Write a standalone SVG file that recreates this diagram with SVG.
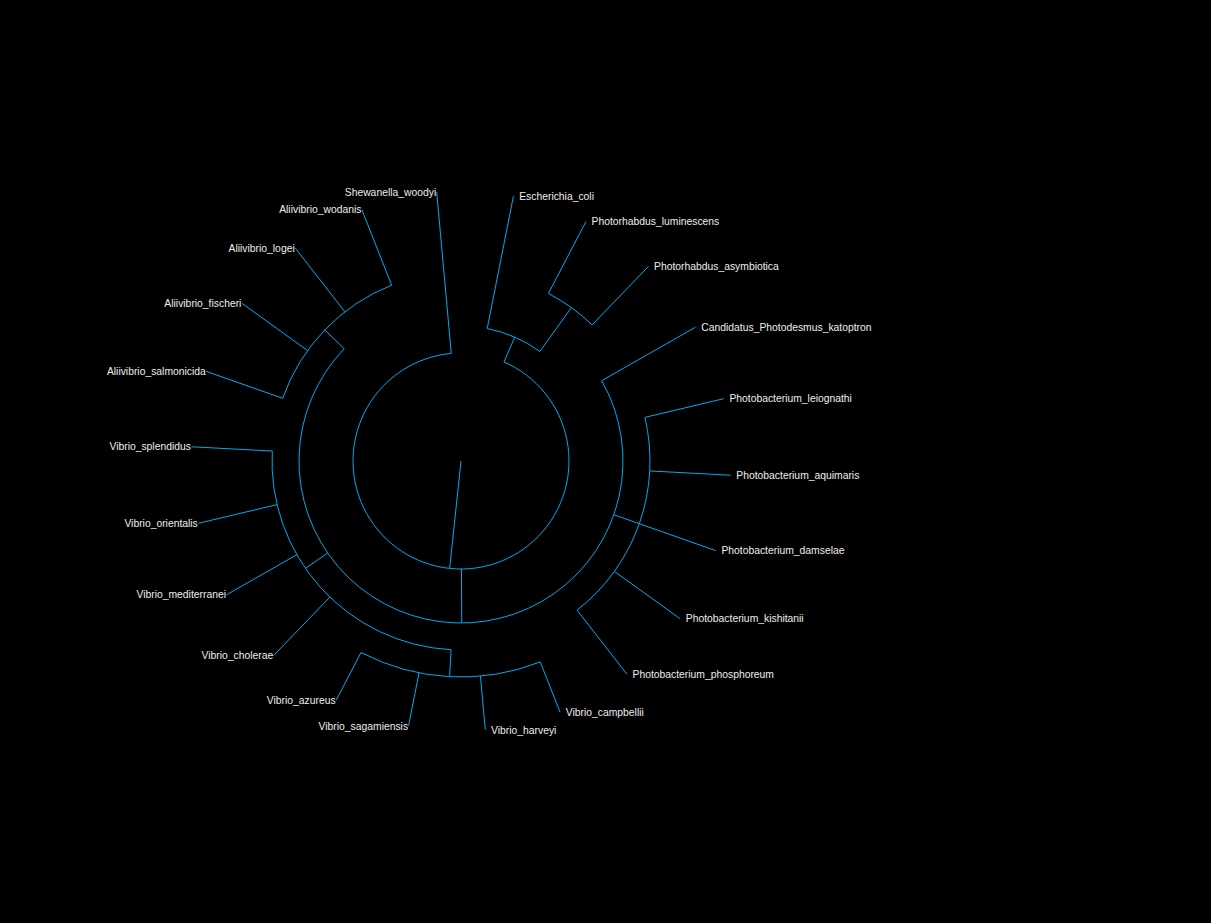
<svg xmlns="http://www.w3.org/2000/svg" width="1211" height="923" viewBox="0 0 1211 923">
<style>
.br{fill:none;stroke:#00aaee;stroke-width:1}
.lr{font-family:"Liberation Sans",Arial,sans-serif;font-size:10.35px;fill:#eeeeee}
.ll{font-family:"Liberation Sans",Arial,sans-serif;font-size:10.35px;fill:#eeeeee;text-anchor:end}
</style>
<rect width="1211" height="923" fill="#000000"/>
<g id="connectors" class="br">
<path d="M461,461 L449.67,568.4"/>
<path d="M504.0,361.93 A108,108 0 1 1 451.28,353.44"/>
<path d="M504.0,361.93 L514.77,337.16"/>
<path d="M487.22,328.57 A135,135 0 0 1 539.87,351.43"/>
<path d="M539.87,351.43 L571.41,307.61"/>
<path d="M548.45,293.45 A189,189 0 0 1 592.11,324.88"/>
<path d="M461.48,569 L461.72,623"/>
<path d="M601.70,380.71 A162,162 0 1 1 344.26,348.68"/>
<path d="M644.90,417.38 A189,189 0 0 1 577.08,610.16"/>
<path d="M327.69,553.03 L305.47,568.37"/>
<path d="M451.05,649.74 A189,189 0 0 1 272.26,451.05"/>
<path d="M451.05,649.74 L449.63,676.70"/>
<path d="M540.26,661.93 A216,216 0 0 1 361.06,652.48"/>
<path d="M344.26,348.68 L324.80,329.96"/>
<path d="M282.71,398.28 A189,189 0 0 1 391.65,285.18"/>
<path d="M487.22,328.57 L513.44,196.14"/>
<path d="M548.45,293.45 L585.93,221.64"/>
<path d="M592.11,324.88 L648.30,266.55"/>
<path d="M601.70,380.71 L695.50,327.19"/>
<path d="M644.90,417.38 L723.71,398.68"/>
<path d="M649.74,470.95 L730.62,475.22"/>
<path d="M613.82,514.76 L715.70,550.60"/>
<path d="M614.40,571.41 L680.14,618.73"/>
<path d="M577.08,610.16 L626.82,674.08"/>
<path d="M540.26,661.93 L560.07,712.17"/>
<path d="M480.44,676.12 L485.30,729.90"/>
<path d="M419.05,672.89 L408.56,725.86"/>
<path d="M361.06,652.48 L336.07,700.36"/>
<path d="M329.89,597.12 L273.70,655.45"/>
<path d="M296.85,554.67 L226.50,594.81"/>
<path d="M277.10,504.62 L198.29,523.32"/>
<path d="M272.26,451.05 L191.38,446.78"/>
<path d="M282.71,398.28 L206.30,371.40"/>
<path d="M307.60,350.59 L241.86,303.27"/>
<path d="M344.92,311.84 L295.18,247.92"/>
<path d="M391.65,285.18 L361.93,209.83"/>
<path d="M451.28,353.44 L436.70,192.10"/>
</g>
<g id="leaf-escherichia-coli"><text class="lr" x="519.2" y="199.7">Escherichia_coli</text></g>
<g id="leaf-photorhabdus-luminescens"><text class="lr" x="591.6" y="225.2">Photorhabdus_luminescens</text></g>
<g id="leaf-photorhabdus-asymbiotica"><text class="lr" x="654.0" y="270.1">Photorhabdus_asymbiotica</text></g>
<g id="leaf-candidatus"><text class="lr" x="701.3" y="330.8">Candidatus_Photodesmus_katoptron</text></g>
<g id="leaf-photobacterium-leiognathi"><text class="lr" x="729.4" y="402.3">Photobacterium_leiognathi</text></g>
<g id="leaf-photobacterium-aquimaris"><text class="lr" x="736.3" y="478.8">Photobacterium_aquimaris</text></g>
<g id="leaf-photobacterium-damselae"><text class="lr" x="721.4" y="554.2">Photobacterium_damselae</text></g>
<g id="leaf-photobacterium-kishitanii"><text class="lr" x="685.8" y="622.3">Photobacterium_kishitanii</text></g>
<g id="leaf-photobacterium-phosphoreum"><text class="lr" x="632.5" y="677.7">Photobacterium_phosphoreum</text></g>
<g id="leaf-vibrio-campbellii"><text class="lr" x="565.8" y="715.8">Vibrio_campbellii</text></g>
<g id="leaf-vibrio-harveyi"><text class="lr" x="491.0" y="733.5">Vibrio_harveyi</text></g>
<g id="leaf-vibrio-sagamiensis"><text class="ll" x="408.1" y="729.5">Vibrio_sagamiensis</text></g>
<g id="leaf-vibrio-azureus"><text class="ll" x="335.6" y="704.0">Vibrio_azureus</text></g>
<g id="leaf-vibrio-cholerae"><text class="ll" x="273.2" y="659.1">Vibrio_cholerae</text></g>
<g id="leaf-vibrio-mediterranei"><text class="ll" x="226.0" y="598.4">Vibrio_mediterranei</text></g>
<g id="leaf-vibrio-orientalis"><text class="ll" x="197.8" y="526.9">Vibrio_orientalis</text></g>
<g id="leaf-vibrio-splendidus"><text class="ll" x="190.9" y="450.4">Vibrio_splendidus</text></g>
<g id="leaf-aliivibrio-salmonicida"><text class="ll" x="205.8" y="375.0">Aliivibrio_salmonicida</text></g>
<g id="leaf-aliivibrio-fischeri"><text class="ll" x="241.4" y="306.9">Aliivibrio_fischeri</text></g>
<g id="leaf-aliivibrio-logei"><text class="ll" x="294.7" y="251.5">Aliivibrio_logei</text></g>
<g id="leaf-aliivibrio-wodanis"><text class="ll" x="361.4" y="213.4">Aliivibrio_wodanis</text></g>
<g id="leaf-shewanella-woodyi"><text class="ll" x="436.2" y="195.7">Shewanella_woodyi</text></g>
</svg>
